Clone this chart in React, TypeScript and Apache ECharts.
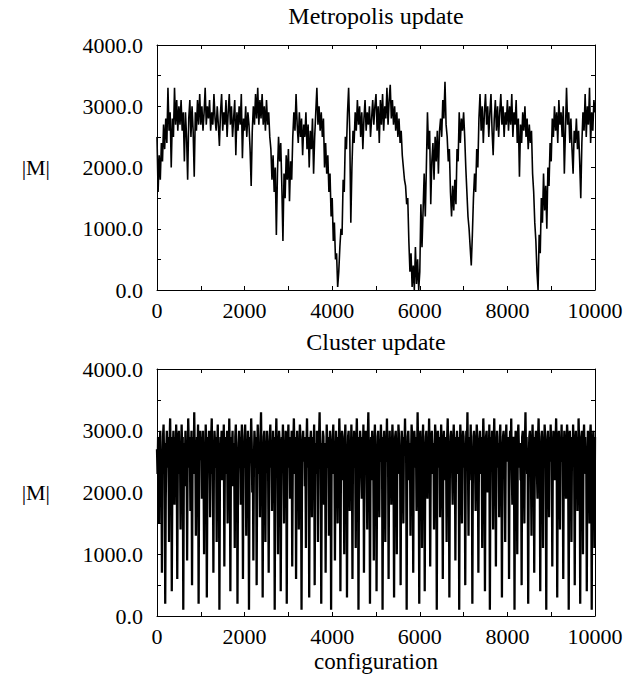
import React, { useEffect, useRef } from "react";
import * as echarts from "echarts";

// configuration step between stored samples
const METROPOLIS_STEP = 25;
const CLUSTER_STEP = 12.5;

// |M| for the Metropolis update (one value every 25 configurations, 0..10000)
const metropolisValues: number[] = [
  2500,1600,2200,1800,2400,2100,2700,2300,2800,2400,3300,2600,2900,2000,2800,2500,3300,2700,3100,2600,3000,2700,3100,2600,2900,2100,2900,2500,1800,2800,3100,2500,3000,2600,1850,2900,2600,3100,2700,3200,
  2700,3000,2600,2900,3300,2700,3000,2800,3100,2600,2900,2700,3200,2800,2600,3000,2700,2350,2900,3200,2600,2900,2700,3100,2500,2900,3200,2700,3000,2500,2800,3100,2200,2900,2600,3000,2700,3200,2150,2800,
  2600,3000,2500,2900,2700,2300,1700,2600,3000,2700,3200,2800,3300,2700,3100,2800,3200,2700,3000,2600,3100,2700,2900,2500,2300,1800,2200,1600,2000,900,1900,2500,2100,2400,1700,800,1900,1500,2200,1800,
  2300,1450,2100,1800,2500,2900,2600,3200,2700,2400,2900,2500,2800,2200,2700,2500,2900,2300,2700,2000,2600,2300,2800,1900,2500,2900,3300,2700,3000,2600,2900,2500,2800,2000,2400,1900,2200,1600,1900,1200,
  1500,800,1100,500,600,50,300,700,1000,900,1800,1600,2500,2300,2900,3300,2600,1100,2000,2600,2400,2900,2600,3100,2700,3000,2500,2900,2300,2800,3100,2600,2900,2700,3000,2500,2800,3100,2700,3000,
  3200,2600,3000,2400,3100,2700,3200,2600,3000,2800,3300,2700,3100,3350,2800,3100,2700,3000,2600,2900,2500,2800,2400,2600,2200,2000,1800,1700,1400,1500,800,300,600,50,400,0,700,100,500,0,
  300,1400,700,1300,1900,1200,2000,2900,2300,2600,1400,2100,2400,1800,2500,2100,2600,1900,2600,2800,2500,3100,2800,3400,2700,2500,2100,2300,1600,1200,1700,1300,1800,1400,2300,2100,2900,2400,2800,2600,
  2900,2500,2000,1600,1200,1000,700,400,900,1500,1900,1600,2300,2000,2800,3200,2600,3000,2400,2900,3200,2700,3000,2500,2900,3200,2600,2200,2800,3100,2600,3000,2500,2900,3200,2700,3000,2500,2900,2700,
  3100,2600,3000,2700,3200,2500,2900,2700,3100,2400,2800,1850,2700,2400,2900,2600,3000,2500,2800,2300,2700,2400,2600,1900,1600,1100,800,300,0,900,600,1500,1100,1900,1300,1700,1000,2000,1700,2400,
  2100,2800,2500,3000,2600,2900,2400,3100,2700,2900,2500,3000,1900,2600,3300,2700,2900,2400,2800,2300,1900,2600,2400,2800,2300,2600,2100,1500,2400,2900,2600,3200,2500,3000,2700,3300,2400,2900,2600,3100,2900,
];

// |M| for the cluster update (one value every 12.5 configurations, 0..10000)
const clusterValues: number[] = [
  2700,2300,2900,2500,1500,2800,3000,2200,2600,700,2400,2900,3100,2500,2800,200,1900,2700,3000,2400,2900,2600,1200,2800,3200,2500,2900,400,2200,2700,3000,2600,1800,2900,2400,3100,2700,600,2500,2900,
  3000,2300,2800,1400,2600,3100,2700,2900,100,2300,2800,2500,3000,2100,2700,900,2600,3200,2800,2400,2900,1700,2500,3000,500,2700,2900,2300,3300,2600,2800,1300,2400,2900,2700,3100,200,2500,2800,3000,
  2600,2900,1900,2700,3000,2400,1000,2800,2500,3100,2700,300,2200,2900,2600,3000,2800,1600,2500,2900,3200,2300,2700,700,2600,3000,2800,2400,2900,1200,2700,3100,2500,2800,100,2400,2900,2700,3000,2200,
  2800,2500,3100,800,2600,2900,2300,2700,3000,1500,2800,2400,3200,2600,400,2500,2900,2700,3000,2100,2800,2600,1100,2900,3100,2500,2700,200,2300,2800,3000,2600,2900,1800,2500,3100,2700,600,2800,2400,
  2900,3100,2600,1300,2800,2500,3000,2700,100,2400,2900,2600,3200,2800,2000,2700,900,2500,3000,2800,2400,2900,500,2600,3100,2700,2300,2800,1600,2900,3300,2500,2700,300,2400,2900,3000,2600,1200,2800,
  2500,3000,2700,2300,700,2600,2900,3100,2400,2800,1700,2600,3000,2200,2900,100,2500,2800,3200,2600,2400,1000,2700,3000,2800,2500,400,2300,2900,2700,3100,2600,1500,2800,2400,3000,2900,200,2600,2800,
  3100,2400,2700,1900,2900,2600,3000,800,2500,2800,3200,2700,2300,2900,600,2600,3000,2500,2800,1400,2700,3100,2900,2400,100,2600,2800,3000,2500,2900,2100,2700,1100,2800,3200,2600,2400,2900,300,2500,
  2800,3000,2600,1600,2900,2400,2700,3100,500,2600,2800,2300,3000,2700,1200,2500,2900,3300,2600,2800,200,2400,2700,3000,2900,1800,2600,2800,700,2500,3100,2700,2400,2900,1300,2600,3000,2800,100,2700,
  2500,2900,3100,2300,2800,900,2600,3000,2700,2400,1500,2900,2600,3200,2800,400,2500,2700,3000,2900,2200,2600,1000,2800,3100,2500,2700,300,2400,2900,3000,2600,1700,2800,2500,3100,2700,600,2900,2400,
  3000,2700,2500,1100,2800,3200,2600,2900,100,2400,2700,3000,2800,2300,1900,2900,2600,3100,700,2500,2800,3000,2700,2400,1400,2900,3300,2600,2800,200,2500,2900,2700,3000,2200,2600,900,2800,3100,2500,
  2700,400,2400,2900,3000,2600,1600,2800,2500,3100,2700,2900,100,2300,2800,3000,2600,1200,2900,2700,3200,2500,2800,600,2600,3000,2400,2900,1800,2700,3100,2800,2500,300,2600,2900,3000,2700,1000,2800,
  2500,3100,2900,2300,2700,500,2600,3000,2800,2400,1500,2900,2700,3200,2600,2800,100,2500,2900,3000,2700,2200,2800,1300,2600,3100,2900,2500,700,2700,3000,2800,2400,2900,1700,2600,3300,2700,2500,200,
  2800,3000,2600,2900,1100,2700,3100,2500,2800,400,2600,2900,3000,2400,1900,2800,2700,3200,2600,800,2500,2900,3000,2700,2300,2800,1400,2600,3100,2900,2500,100,2700,3000,2800,2400,2900,1600,2600,3100,
  2700,2500,600,2800,3000,2600,2900,2200,2700,1200,2900,3200,2500,2800,300,2600,2900,3000,2700,2400,1800,2800,3100,2600,2900,900,2500,2800,3000,2700,2300,2900,100,2600,3100,2800,2500,1500,2700,3000,
  2900,2400,2800,500,2600,3000,2700,3300,2500,1300,2800,2900,2600,3100,2200,2700,200,2500,2900,3000,2800,2400,1700,2600,3100,2900,2700,700,2500,2800,3000,2600,2300,2900,1100,2700,3200,2800,2500,400,
  2600,2900,3000,2700,2000,2800,2500,3100,100,2400,2900,2700,3000,2600,1400,2800,3200,2500,2900,800,2700,3000,2600,2400,2800,1600,2900,3100,2500,2700,300,2600,2900,3000,2800,2300,1200,2700,3100,2600,
  2800,2500,2900,600,2700,3000,2600,3200,2400,1800,2800,2900,2700,100,2500,3000,2800,2600,1000,2900,3100,2700,2400,2800,2200,2600,500,2900,3000,2700,2500,1500,2800,3300,2600,2900,2300,2700,200,2500,
  2900,3000,2700,2400,1300,2800,3100,2600,2900,700,2500,2800,3000,2700,2300,1900,2900,3200,2600,2800,400,2500,2900,3000,2700,1100,2800,2600,3100,2900,2400,100,2700,2800,3000,2600,1600,2900,2500,3100,
  2700,2800,800,2600,3000,2900,2500,2200,2800,3200,2700,300,2400,2900,3000,2600,1400,2800,2700,3100,2500,2900,600,2600,3000,2800,2400,1900,2700,3100,2900,2500,100,2800,3000,2600,2700,1200,2900,2500,
  3100,2700,2400,500,2800,3000,2600,2900,1700,2500,3200,2800,2700,200,2600,2900,3000,2400,1000,2800,3100,2600,2900,2300,2700,400,2500,3000,2800,2600,1500,2900,3100,2700,100,2400,2800,3000,2600,1100,
  2900,
];

const panelTitles = ["Metropolis update", "Cluster update"];
const yAxisTitle = "|M|";
const xAxisTitle = "configuration";

const X_MIN = 0;
const X_MAX = 10000;
const X_INTERVAL = 2000;
const Y_MIN = 0;
const Y_MAX = 4000;
const Y_INTERVAL = 1000;

const FONT = "'Liberation Serif', 'Times New Roman', serif";
const INK = "#000000";

function toPairs(values: number[], step: number): [number, number][] {
  return values.map((v, i) => [i * step, v]);
}

export default function App() {
  const ref = useRef<HTMLDivElement>(null);

  useEffect(() => {
    if (!ref.current) return;
    const chart = echarts.init(ref.current, undefined, { renderer: "svg" });

    const grids = [
      { left: 157, top: 45, width: 438, height: 245 },
      { left: 157, top: 369, width: 438, height: 247 },
    ];

    const tickCommon = {
      axisTick: { show: true, inside: true, length: 4, lineStyle: { color: INK, width: 1 } },
      minorTick: { show: true, splitNumber: 2, length: 4, lineStyle: { color: INK, width: 1 } },
      axisLine: { show: true, onZero: false, lineStyle: { color: INK, width: 1 } },
      splitLine: { show: false },
      minorSplitLine: { show: false },
    };

    const xAxes: any[] = [];
    const yAxes: any[] = [];
    grids.forEach((_, g) => {
      xAxes.push({
        type: "value",
        gridIndex: g,
        position: "bottom",
        min: X_MIN,
        max: X_MAX,
        interval: X_INTERVAL,
        ...tickCommon,
        axisLabel: {
          show: true,
          margin: 9,
          color: INK,
          fontFamily: FONT,
          fontSize: 22,
          formatter: (v: number) => String(v),
        },
      });
      xAxes.push({
        type: "value",
        gridIndex: g,
        position: "top",
        min: X_MIN,
        max: X_MAX,
        interval: X_INTERVAL,
        ...tickCommon,
        axisLabel: { show: false },
      });
      yAxes.push({
        type: "value",
        gridIndex: g,
        position: "left",
        min: Y_MIN,
        max: Y_MAX,
        interval: Y_INTERVAL,
        ...tickCommon,
        name: yAxisTitle,
        nameLocation: "middle",
        nameRotate: 0,
        nameGap: 107,
        nameTextStyle: {
          color: INK,
          fontFamily: FONT,
          fontSize: 22,
          align: "right",
          verticalAlign: "middle",
        },
        axisLabel: {
          show: true,
          margin: 14,
          color: INK,
          fontFamily: FONT,
          fontSize: 22,
          formatter: (v: number) => v.toFixed(1),
        },
      });
      yAxes.push({
        type: "value",
        gridIndex: g,
        position: "right",
        min: Y_MIN,
        max: Y_MAX,
        interval: Y_INTERVAL,
        ...tickCommon,
        axisLabel: { show: false },
      });
    });

    const seriesData = [
      toPairs(metropolisValues, METROPOLIS_STEP),
      toPairs(clusterValues, CLUSTER_STEP),
    ];
    const lineWidths = [1.6, 2.3];

    const textItem = (text: string, x: number, y: number, size: number) => ({
      type: "text",
      x,
      y,
      silent: true,
      style: {
        text,
        fill: INK,
        fontFamily: FONT,
        fontSize: size,
        align: "center",
        verticalAlign: "middle",
      },
    });

    chart.setOption({
      animation: false,
      backgroundColor: "#ffffff",
      grid: grids,
      xAxis: xAxes,
      yAxis: yAxes,
      series: seriesData.map((d, g) => ({
        type: "line",
        xAxisIndex: g * 2,
        yAxisIndex: g * 2,
        data: d,
        showSymbol: false,
        symbol: "none",
        lineStyle: { color: INK, width: lineWidths[g] },
        silent: true,
      })),
      graphic: [
        textItem(panelTitles[0], 376, 16, 24),
        textItem(panelTitles[1], 376, 342, 24),
        textItem(xAxisTitle, 376, 661, 23),
      ],
    });

    return () => {
      chart.dispose();
    };
  }, []);

  return (
    <div
      ref={ref}
      style={{ position: "fixed", left: 0, top: 0, width: 634, height: 679, background: "#fff" }}
    />
  );
}
